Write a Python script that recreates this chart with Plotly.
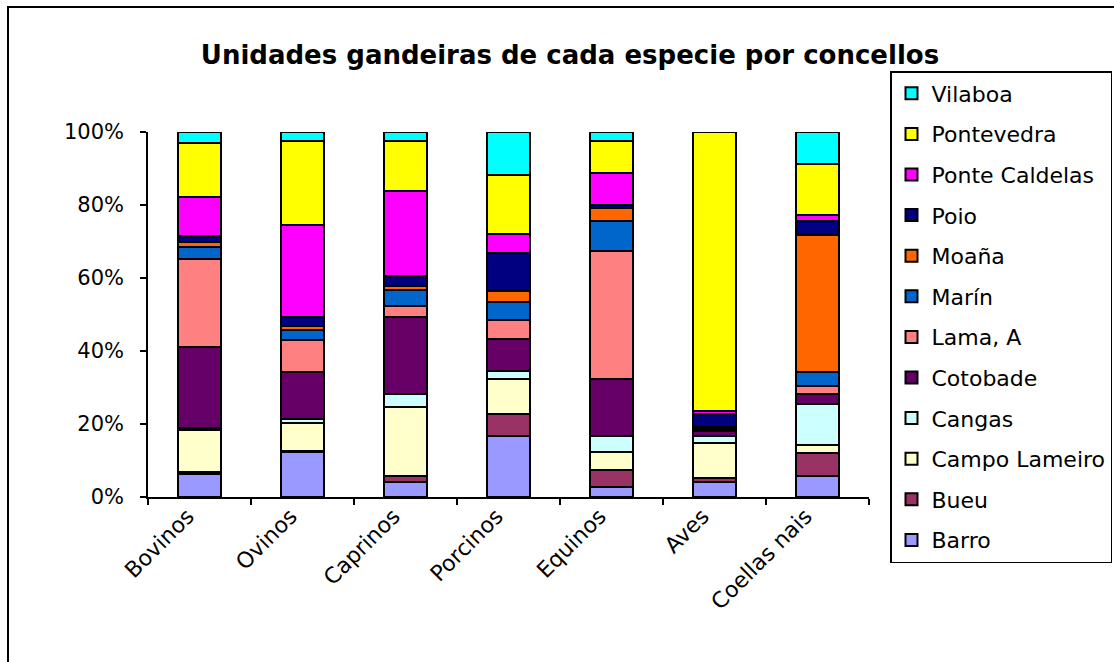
import plotly.graph_objects as go

## ----------- data ----------- ##
SPECIES = ["Bovinos", "Ovinos", "Caprinos", "Porcinos", "Equinos", "Aves", "Coellas nais"]

BARRO = [6.4, 12.3, 4.0, 16.7, 2.7, 4.1, 5.7]
BUEU = [0.4, 0.3, 1.7, 6.0, 4.6, 1.0, 6.4]
CAMPO_LAMEIRO = [11.5, 7.6, 19.0, 9.5, 5.0, 9.5, 2.2]
CANGAS = [0.6, 0.9, 3.5, 2.2, 4.4, 1.9, 11.1]
COTOBADE = [22.2, 13.0, 20.9, 9.0, 15.7, 1.3, 2.7]
LAMA_A = [24.1, 8.5, 3.0, 5.0, 35.1, 0.5, 2.3]
MARIN = [3.4, 2.9, 4.4, 5.1, 8.1, 0.5, 3.7]
MOANA = [1.2, 1.0, 1.0, 2.9, 3.6, 0.3, 37.7]
POIO = [1.8, 2.6, 3.0, 10.4, 0.9, 3.5, 3.7]
PONTE_CALDELAS = [10.5, 24.8, 23.0, 5.3, 8.8, 0.6, 1.8]
PONTEVEDRA = [14.8, 23.0, 13.8, 16.0, 8.7, 75.8, 13.8]
VILABOA = [3.1, 2.4, 2.4, 11.9, 2.4, 0.0, 8.8]

SERIES = [
    ("Barro", BARRO, "#9999FF"),
    ("Bueu", BUEU, "#993366"),
    ("Campo Lameiro", CAMPO_LAMEIRO, "#FFFFCC"),
    ("Cangas", CANGAS, "#CCFFFF"),
    ("Cotobade", COTOBADE, "#660066"),
    ("Lama, A", LAMA_A, "#FF8080"),
    ("Marín", MARIN, "#0066CC"),
    ("Moaña", MOANA, "#FF6600"),
    ("Poio", POIO, "#000080"),
    ("Ponte Caldelas", PONTE_CALDELAS, "#FF00FF"),
    ("Pontevedra", PONTEVEDRA, "#FFFF00"),
    ("Vilaboa", VILABOA, "#00FFFF"),
]

Y_TICKS = [0, 20, 40, 60, 80, 100]
Y_LABELS = ["0%", "20%", "40%", "60%", "80%", "100%"]

FONT = "DejaVu Sans"

## ----------- plot ----------- ##
fig = go.Figure()
n = len(SERIES)
for i, (name, vals, color) in enumerate(SERIES):
    fig.add_trace(go.Bar(
        x=SPECIES, y=vals, name=name, legendgroup=name,
        legendrank=n - i,  # Vilaboa on top, like the stack
        marker=dict(color=color, line=dict(color="black", width=2)),
    ))

# plot area in pixels: x 148..869, y 132..497
L, R, T, B = 148, 869, 132, 497
W, H = 1114, 662
px = lambda v: (v - L) / (R - L)
py = lambda v: (B - v) / (B - T)

fig.update_layout(
    width=W, height=H,
    margin=dict(l=L, r=W - R, t=T, b=H - B, pad=0),
    barmode="stack", barnorm="percent", bargap=0.59,
    plot_bgcolor="white", paper_bgcolor="white",
    font=dict(family=FONT, size=20, color="black"),
    title=dict(
        text="<b>Unidades gandeiras de cada especie por concellos</b>",
        x=570 / W, xref="container", xanchor="center",
        y=1 - 55 / H, yref="container", yanchor="middle",
        font=dict(family=FONT, size=26, color="black"),
    ),
    xaxis=dict(
        showline=True, linecolor="black", linewidth=1.5,
        ticks="outside", tickson="boundaries", ticklen=6, tickcolor="black", tickwidth=1.5,
        tickangle=-45, tickfont=dict(size=22), ticklabelshift=-12, ticklabelstandoff=-4,
    ),
    yaxis=dict(
        range=[0, 100], tickmode="array", tickvals=Y_TICKS, ticktext=Y_LABELS,
        showline=True, linecolor="black", linewidth=1.5, showgrid=False, zeroline=False,
        ticks="outside", ticklen=6, tickcolor="black", tickwidth=1.5,
        ticklabelstandoff=12, tickfont=dict(size=21),
    ),
    legend=dict(
        xref="container", yref="container",
        x=890 / W, y=1 - 71 / H, xanchor="left", yanchor="top",
        maxheight=620,
        traceorder="grouped", tracegroupgap=9,
        bordercolor="black", borderwidth=1.5,
        font=dict(size=22),
    ),
    showlegend=True,
)

# outer chart frame
fig.add_shape(
    type="rect", xref="paper", yref="paper",
    x0=px(8), x1=px(1125), y0=py(670), y1=py(7),
    line=dict(color="black", width=2), fillcolor="rgba(0,0,0,0)", layer="below",
)

fig.write_html(
    "out.html",
    config={"displayModeBar": False},
    post_script="document.body.style.margin = '0';",
)
